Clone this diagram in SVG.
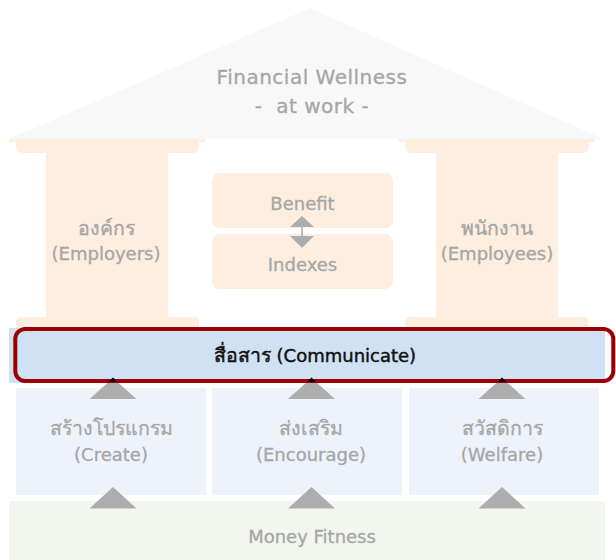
<svg xmlns="http://www.w3.org/2000/svg" width="616" height="560" viewBox="0 0 616 560">
<defs>
<style>
text{font-family:"DejaVu Sans","Noto Sans",sans-serif;font-size:18px;fill:#a6a6a6;stroke:#a6a6a6;stroke-width:0.3px;text-anchor:middle}
.th{font-size:19.5px}
.title{font-size:20px;letter-spacing:0.5px}
.dark{fill:#111111;stroke:#111111;stroke-width:0.45px}
.roof{fill:#f8f8f8}
.peach{fill:#fdeee0}
.band{fill:#cfe1f2}
.box{fill:#eef3fb}
.base{fill:#f2f6ef}
.tri{fill:#adadad}
.tip{fill:#000000}
.frame{fill:none;stroke:#9c0000;stroke-width:4}
</style>
</defs>
<rect width="616" height="560" fill="#ffffff"/>

<g id="roof">
<polygon class="roof" points="9,139 310,8 604,139"/>
<text class="title" x="312" y="84">Financial Wellness</text>
<text class="title" x="312" y="113" xml:space="preserve">-  at work -</text>
</g>

<g id="pillar-employers">
<rect class="peach" x="9" y="139" width="196" height="3"/>
<rect class="peach" x="16" y="139" width="183" height="14" rx="5"/>
<rect class="peach" x="16" y="139" width="183" height="6"/>
<rect class="peach" x="46" y="152" width="122" height="166"/>
<rect class="peach" x="16" y="317" width="183" height="16" rx="5"/>
<rect class="peach" x="9" y="328" width="196" height="3"/>
<text class="th" x="106" y="235">องค์กร</text>
<text x="106" y="260">(Employers)</text>
</g>

<g id="pillar-employees">
<rect class="peach" x="399" y="139" width="196" height="3"/>
<rect class="peach" x="405.5" y="139" width="183" height="14" rx="5"/>
<rect class="peach" x="405.5" y="139" width="183" height="6"/>
<rect class="peach" x="436" y="152" width="122" height="166"/>
<rect class="peach" x="405.5" y="317" width="183" height="16" rx="5"/>
<rect class="peach" x="399" y="328" width="196" height="3"/>
<text class="th" x="497" y="235">พนักงาน</text>
<text x="497" y="260">(Employees)</text>
</g>

<g id="benefit">
<rect class="peach" x="212" y="173" width="181" height="55" rx="8"/>
<text x="302.5" y="210">Benefit</text>
</g>

<g id="indexes">
<rect class="peach" x="212" y="234" width="181" height="55" rx="8"/>
<text x="302.5" y="271">Indexes</text>
</g>

<g id="communicate">
<rect class="band" x="9" y="328" width="596" height="55"/>
<text class="dark" x="315" y="362"><tspan font-size="19.5px">สื่อสาร</tspan> (Communicate)</text>
</g>

<g id="create">
<rect class="box" x="16" y="388" width="190" height="107"/>
<text class="th" x="111" y="435">สร้างโปรแกรม</text>
<text x="111" y="461">(Create)</text>
</g>

<g id="encourage">
<rect class="box" x="212" y="388" width="190" height="107"/>
<text class="th" x="311" y="435">ส่งเสริม</text>
<text x="311" y="461">(Encourage)</text>
</g>

<g id="welfare">
<rect class="box" x="409" y="388" width="190" height="107"/>
<text class="th" x="502" y="435">สวัสดิการ</text>
<text x="502" y="461">(Welfare)</text>
</g>

<g id="money-fitness">
<rect class="base" x="9" y="501" width="596" height="59"/>
<text x="312" y="543">Money Fitness</text>
</g>

<g id="connectors">
<polygon class="tri" points="290,227 302,216 314,227"/>
<line x1="302" y1="227" x2="302" y2="236" stroke="#adadad" stroke-width="1.5"/>
<polygon class="tri" points="290,236 314,236 302,248"/>

<polygon class="tri" points="89.5,399 113,378 136.5,399"/>
<polygon class="tri" points="288,399 311.5,378 335,399"/>
<polygon class="tri" points="478.5,399 502,378 525.5,399"/>

<polygon class="tri" points="89.5,508.5 113,487 136.5,508.5"/>
<polygon class="tri" points="288,508.5 311.5,487 335,508.5"/>
<polygon class="tri" points="478.5,508.5 502,487 525.5,508.5"/>
</g>

<g id="focus-frame">
<rect class="frame" x="15.3" y="329" width="598" height="52" rx="10"/>
<polygon class="tip" points="108.5,382 113,377.5 117.5,382"/>
<polygon class="tip" points="307,382 311.5,377.5 316,382"/>
<polygon class="tip" points="497.5,382 502,377.5 506.5,382"/>
</g>
</svg>
